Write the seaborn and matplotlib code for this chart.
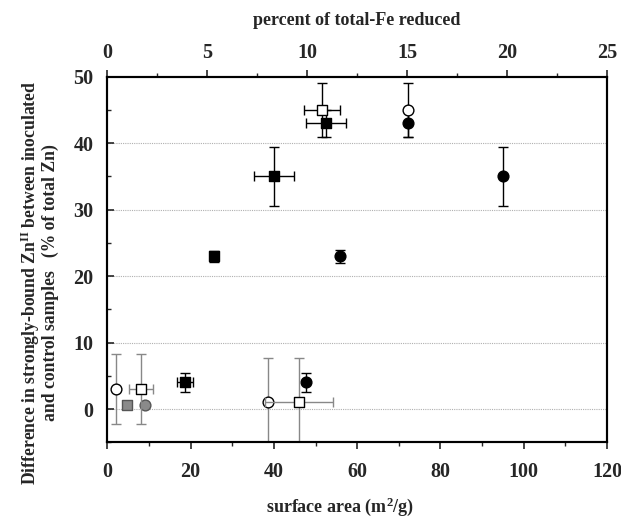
import matplotlib
matplotlib.use("Agg")
import matplotlib.pyplot as plt
import seaborn as sns
import pandas as pd
from matplotlib.ticker import MultipleLocator

# ---- data ----
# circles: plotted against surface area (bottom axis)
circ_filled_sa = [47.8, 55.9, 72.2, 95.1]
circ_filled_dzn = [4.0, 23.0, 43.0, 35.0]
circ_filled_yerr = [1.5, 1.0, 2.0, 4.5]

circ_open_sa = [2.1, 38.5, 72.2]
circ_open_dzn = [3.0, 1.0, 45.0]
circ_open_yerr = [5.3, 6.7, 4.0]

circ_gray_sa = [9.1]
circ_gray_dzn = [0.65]

# squares: plotted against percent of total-Fe reduced (top axis)
sq_filled_pct = [3.89, 5.33, 8.33, 10.95]
sq_filled_dzn = [4.0, 23.0, 35.0, 43.0]
sq_filled_xerr = [0.4, 0.2, 1.0, 1.0]
sq_filled_yerr = [1.5, 0.8, 4.5, 2.0]

sq_open_pct = [1.70, 9.6, 10.74]
sq_open_dzn = [3.0, 1.0, 45.0]
sq_open_xerr = [0.6, 1.7, 0.92]
sq_open_yerr = [5.3, 6.7, 4.0]

sq_gray_pct = [1.0]
sq_gray_dzn = [0.65]

bottom_ticks = [0, 20, 40, 60, 80, 100, 120]
top_ticks = [0, 5, 10, 15, 20, 25]
y_ticks = [0, 10, 20, 30, 40, 50]

# ---- style ----
sns.set_style("ticks")
plt.rcParams['font.family'] = ['Liberation Serif', 'DejaVu Serif']
plt.rcParams['font.weight'] = 'bold'
plt.rcParams['mathtext.fontset'] = 'custom'
plt.rcParams['mathtext.rm'] = 'Liberation Serif:bold'
plt.rcParams['mathtext.it'] = 'Liberation Serif:bold'
plt.rcParams['mathtext.bf'] = 'Liberation Serif:bold'

fig = plt.figure(figsize=(6.21, 5.23), dpi=100)
ax = fig.add_axes([0.1728, 0.1543, 0.8047, 0.6989])
ax2 = ax.twiny()

ax.set_xlim(0, 120)
ax.set_ylim(-5, 50)
ax2.set_xlim(0, 25)

for yv in [0, 10, 20, 30, 40]:
    ax.axhline(yv, color='#b0b0b0', lw=0.8, ls=(0, (1, 1)), zorder=0)

gray = '#888888'
cap = 3.5

def errs(axx, xs, ys, xerr, yerr, colors):
    for i in range(len(xs)):
        axx.errorbar(xs[i], ys[i],
                     xerr=None if xerr is None else xerr[i],
                     yerr=None if yerr is None else yerr[i],
                     fmt='none', ecolor=colors[i], elinewidth=1.0,
                     capsize=cap, capthick=1.0, zorder=2)

# circle error bars (bottom axis)
errs(ax, circ_filled_sa, circ_filled_dzn, None, circ_filled_yerr, ['black'] * 4)
errs(ax, circ_open_sa, circ_open_dzn, None, circ_open_yerr, [gray, gray, 'black'])
# square error bars (top axis)
errs(ax2, sq_filled_pct, sq_filled_dzn, sq_filled_xerr, sq_filled_yerr, ['black'] * 4)
errs(ax2, sq_open_pct, sq_open_dzn, sq_open_xerr, sq_open_yerr, [gray, gray, 'black'])

ms = 60
sns.scatterplot(x=circ_open_sa, y=circ_open_dzn, ax=ax, marker='o', s=ms,
                facecolor='white', edgecolor='black', linewidth=1.0, zorder=3)
sns.scatterplot(x=circ_filled_sa, y=circ_filled_dzn, ax=ax, marker='o', s=ms,
                color='black', edgecolor='black', linewidth=1.0, zorder=4)
sns.scatterplot(x=circ_gray_sa, y=circ_gray_dzn, ax=ax, marker='o', s=ms,
                color='#8a8a8a', edgecolor='#555555', linewidth=1.0, zorder=4)

sns.scatterplot(x=sq_open_pct, y=sq_open_dzn, ax=ax2, marker='s', s=ms,
                facecolor='white', edgecolor='black', linewidth=1.0, zorder=3)
sns.scatterplot(x=sq_filled_pct, y=sq_filled_dzn, ax=ax2, marker='s', s=ms,
                color='black', edgecolor='black', linewidth=1.0, zorder=4)
sns.scatterplot(x=sq_gray_pct, y=sq_gray_dzn, ax=ax2, marker='s', s=45,
                color='#8a8a8a', edgecolor='#555555', linewidth=1.0, zorder=4)

ax.set_xlim(0, 120)
ax.set_ylim(-5, 50)
ax2.set_xlim(0, 25)

ax.set_xticks(bottom_ticks)
ax.set_yticks(y_ticks)
ax2.set_xticks(top_ticks)
ax.xaxis.set_minor_locator(MultipleLocator(10))
ax.yaxis.set_minor_locator(MultipleLocator(5))
ax2.xaxis.set_minor_locator(MultipleLocator(2.5))

tick_fs = 14.5
for a in (ax, ax2):
    a.tick_params(axis='both', which='major', labelsize=tick_fs, length=5, width=1.2,
                  direction='in', pad=14)
    a.tick_params(axis='both', which='minor', length=3, width=1.0, direction='in')
    for s in a.spines.values():
        s.set_linewidth(1.5)
        s.set_color('black')
        s.set_visible(True)
ax.tick_params(axis='x', which='both', direction='out', pad=9)
ax.tick_params(axis='y', which='both', direction='in', pad=10)
ax2.tick_params(axis='x', which='both', direction='out', pad=5)
ax.tick_params(right=False, top=False)
for lab in ax.get_xticklabels() + ax.get_yticklabels() + ax2.get_xticklabels():
    lab.set_fontweight('bold')

ax.set_xlabel('')
ax.set_ylabel('')
ax2.set_xlabel('percent of total-Fe reduced', fontsize=13, fontweight='bold', labelpad=13)

fig.text(0.548, 0.01, 'surface area (m$^{2}$/g)', fontsize=13, fontweight='bold',
         ha='center', va='bottom')
fig.text(0.062, 0.46,
         'Difference in strongly-bound Zn$^{II}$ between inoculated\nand control samples   (% of total Zn)',
         fontsize=12.7, fontweight='bold', rotation=90, ha='center', va='center',
         multialignment='center', linespacing=1.0)

fig.savefig('out.png', dpi=100)
